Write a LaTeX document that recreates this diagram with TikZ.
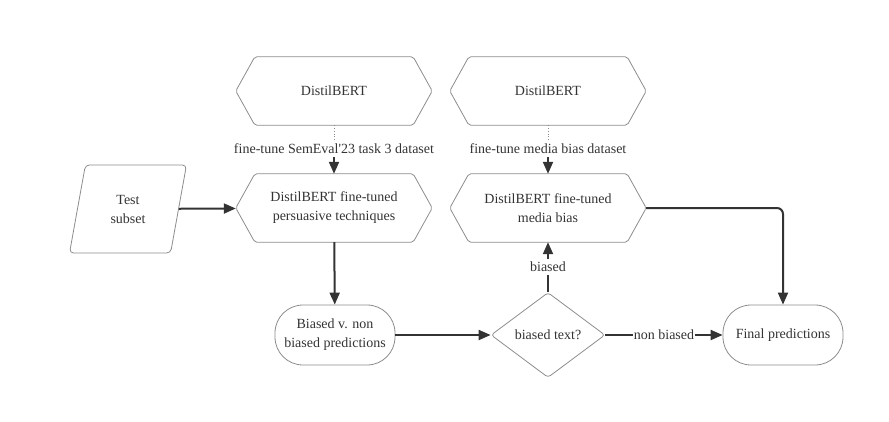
\documentclass[tikz,border=0pt]{standalone}
\usepackage{fontspec}
\setmainfont{Liberation Serif}
\usetikzlibrary{positioning}
\usetikzlibrary{shapes.geometric}
\usetikzlibrary{arrows.meta}
\definecolor{bord}{RGB}{140, 140, 140}
\definecolor{ink}{RGB}{51, 51, 51}

\begin{document}
\begin{tikzpicture}
				[x=1pt,y=-1pt,every node/.style={inner sep=0pt, text=ink, align=center, font=\fontsize{14}{19}\selectfont},
				hexa/.style={rectangle, minimum width=196pt, minimum height=68pt},
				outline/.style={draw=bord, line width=0.8pt},
				flow/.style={-{Triangle[length=12pt,width=10pt]}, draw=ink, line width=2pt}]
				\useasboundingbox (0, 0) rectangle (889, 421);
				\node (hx1) [hexa] at (334, 91)  {DistilBERT};
				\node (hx2) [hexa] at (548, 91)  {DistilBERT};
				\node (hx3) [hexa] at (334, 208)  {DistilBERT fine-tuned\\persuasive techniques};
				\node (hx4) [hexa] at (548, 208)  {DistilBERT fine-tuned\\media bias};
				\foreach \n in {hx1, hx2, hx3, hx4}
					\draw [outline, rounded corners=2pt] (\n.west) -- ([xshift=19pt]\n.north west) -- ([xshift=-19pt]\n.north east) -- (\n.east) -- ([xshift=-19pt]\n.south east) -- ([xshift=19pt]\n.south west) -- cycle;
				\node (l1) [inner sep=3pt] at (334, 149)  {fine-tune SemEval\textquotesingle 23 task 3 dataset};
				\node (l2) [inner sep=3pt] at (548, 149)  {fine-tune media bias dataset};
				\node (test) [trapezium, trapezium left angle=77, trapezium right angle=103, trapezium stretches=true, minimum width=117pt, minimum height=88pt, outline, rounded corners=4pt] at (128, 209)  {Test\\subset};
				\node (bvn) [rectangle, minimum width=120pt, minimum height=60pt, rounded corners=28pt, outline] at (335, 335)  {Biased v. non\\biased predictions};
				\node (dia) [diamond, aspect=1.34, minimum width=114pt, minimum height=85pt, outline, rounded corners=3pt] at (548, 335)  {biased text?};
				\node (fin) [rectangle, minimum width=120pt, minimum height=60pt, rounded corners=28pt, outline] at (783, 335)  {Final predictions};
				\draw [bord, dotted, line width=0.8pt] (hx1) to (l1);
				\draw [bord, dotted, line width=0.8pt] (hx2) to (l2);
				\draw [flow] (l1) to (hx3);
				\draw [flow] (l2) to (hx4);
				\draw [flow] (test) to (hx3);
				\draw [flow] (hx3) to (bvn);
				\draw [flow] (bvn) to (dia);
				\draw [flow] (dia) to node[fill=white, inner sep=3pt] {biased} (hx4);
				\draw [flow] (dia) to node[fill=white, inner sep=1pt] {non biased} (fin);
				\draw [flow, rounded corners=6pt] (hx4.east) -| (fin.north);
		\end{tikzpicture}
\end{document}
